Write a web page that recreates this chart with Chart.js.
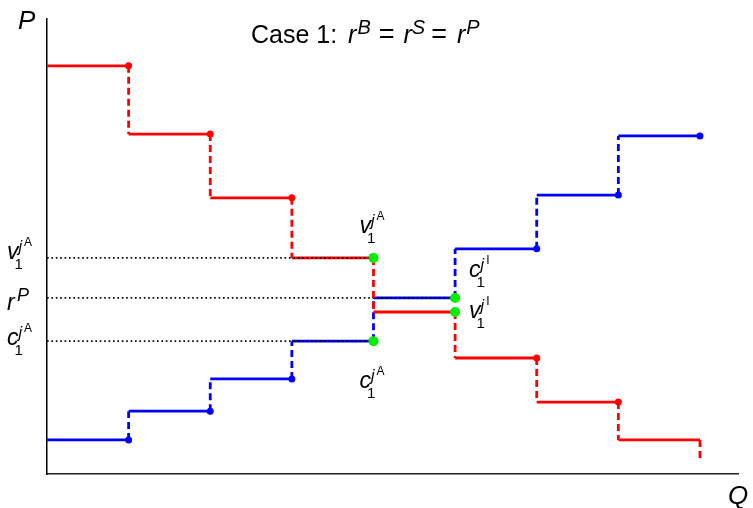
<!DOCTYPE html>
<html>
<head>
<meta charset="utf-8">
<script src="https://cdn.jsdelivr.net/npm/chart.js@4"></script>
<style>
  body { margin: 0; background: #fff; }
</style>
</head>
<body>
<canvas id="stepChart" width="753" height="508"></canvas>
<script>
// quantity steps and price levels
var qSteps = [0, 1, 2, 3, 4, 5, 6, 7, 8];
var redLevels = [8.97, 7.47, 6.07, 4.75, 3.56, 2.55, 1.58, 0.75];
var redTail = 0.35;
var blueLevels = [0.75, 1.38, 2.09, 2.92, 3.87, 4.95, 6.13, 7.43];
var redDotQ = [1, 2, 3, 6, 7];
var blueDotQ = [1, 2, 3, 6, 7, 8];
var greenQ = [4, 5];
var vA = redLevels[3];
var rP = blueLevels[4];
var cA = blueLevels[3];

var FONT = '"Liberation Sans", Arial, sans-serif';

// solid horizontal pieces, separated by gaps
function flats(levels) {
  var pts = [];
  levels.forEach(function (v, i) {
    pts.push({ x: qSteps[i], y: v }, { x: qSteps[i + 1], y: v }, { x: qSteps[i + 1], y: null });
  });
  return pts;
}

// dashed vertical risers between levels
function risers(levels, tail) {
  var pts = [];
  for (var i = 0; i < levels.length - 1; i++) {
    pts.push({ x: qSteps[i + 1], y: levels[i] }, { x: qSteps[i + 1], y: levels[i + 1] }, { x: qSteps[i + 1], y: null });
  }
  if (tail != null) {
    var q = qSteps[levels.length];
    pts.push({ x: q, y: levels[levels.length - 1] }, { x: q, y: tail });
  }
  return pts;
}

function dots(list, levels) {
  return list.map(function (q) { return { x: q, y: levels[q - 1] }; });
}

var greenPts = [];
greenQ.forEach(function (q) {
  greenPts.push({ x: q, y: redLevels[q - 1] });
  greenPts.push({ x: q, y: blueLevels[q - 1] });
});

function lineSet(data, color, dashed) {
  return {
    data: data,
    borderColor: color,
    borderWidth: 2.8,
    borderDash: dashed ? [7, 4] : [],
    pointRadius: 0,
    spanGaps: false,
    order: 2
  };
}

function dotSet(data, color, r, order) {
  return {
    data: data,
    showLine: false,
    pointRadius: r,
    pointBackgroundColor: color,
    pointBorderColor: color,
    pointBorderWidth: 0,
    order: order
  };
}

function dotted(y, qEnd) {
  return {
    data: [{ x: 0, y: y }, { x: qEnd, y: y }],
    borderColor: '#000',
    borderWidth: 1.6,
    borderDash: [1.6, 2.8],
    pointRadius: 0,
    order: 1
  };
}

// math-ish label: base_sub^{sup^{supsup}}
function mathLabel(ctx, x, y, base, sub, sup, supsup) {
  ctx.font = 'italic 23px ' + FONT;
  ctx.fillText(base, x, y);
  var w = ctx.measureText(base).width;
  ctx.font = '15px ' + FONT;
  ctx.fillText(sub, x + w - 4, y + 10);
  ctx.font = 'italic 16px ' + FONT;
  ctx.fillText(sup, x + w, y - 7);
  var w2 = ctx.measureText(sup).width;
  ctx.font = '12px ' + FONT;
  ctx.fillText(supsup, x + w + 2 + w2, y - 13);
}

var labelPlugin = {
  id: 'labels',
  afterDraw: function (chart) {
    var ctx = chart.ctx;
    var xs = chart.scales.x, ys = chart.scales.y;
    ctx.save();
    ctx.fillStyle = '#000';
    ctx.textBaseline = 'alphabetic';
    ctx.textAlign = 'left';

    // axis letters
    ctx.font = 'italic 26px ' + FONT;
    ctx.fillText('P', 18, 29);
    ctx.fillText('Q', 728, 504);

    // title
    var parts = [
      ['Case 1: ', '25px', 0, 4], ['r', 'italic 25px', 0, 1], ['B', 'italic 20px', -9, 8],
      ['=', '27px', 0, 9], ['r', 'italic 25px', 0, 0], ['S', 'italic 20px', -9, 6],
      ['=', '27px', 0, 10], ['r', 'italic 25px', 0, 1], ['P', 'italic 20px', -9, 0]
    ];
    var tx = 251;
    parts.forEach(function (p) {
      ctx.font = p[1] + ' ' + FONT;
      ctx.fillText(p[0], tx, 43 + p[2]);
      tx += ctx.measureText(p[0]).width + p[3];
    });

    // left side labels
    mathLabel(ctx, 7, ys.getPixelForValue(vA) + 1, 'v', '1', 'j', 'A');
    ctx.font = 'italic 23px ' + FONT;
    ctx.fillText('r', 7, ys.getPixelForValue(rP) + 12);
    ctx.font = 'italic 18px ' + FONT;
    ctx.fillText('P', 17, ys.getPixelForValue(rP) + 3);
    mathLabel(ctx, 7, ys.getPixelForValue(cA) + 4, 'c', '1', 'j', 'A');

    // labels at the crossing points
    var x4 = xs.getPixelForValue(4), x5 = xs.getPixelForValue(5);
    mathLabel(ctx, x4 - 14, ys.getPixelForValue(vA) - 25, 'v', '1', 'j', 'A');
    mathLabel(ctx, x4 - 14, ys.getPixelForValue(cA) + 47, 'c', '1', 'j', 'A');
    mathLabel(ctx, x5 + 14, ys.getPixelForValue(blueLevels[5]) + 28, 'c', '1', 'j', 'I');
    mathLabel(ctx, x5 + 14, ys.getPixelForValue(redLevels[4]) + 6, 'v', '1', 'j', 'I');
    ctx.restore();
  }
};

new Chart(document.getElementById('stepChart'), {
  type: 'line',
  data: {
    datasets: [
      dotSet(greenPts, '#00ee00', 5, 0),
      dotted(vA, 4),
      dotted(rP, 5),
      dotted(cA, 4),
      dotSet(dots(redDotQ, redLevels), '#ff0000', 3.5, 1),
      dotSet(dots(blueDotQ, blueLevels), '#0000ff', 3.5, 1),
      lineSet(flats(redLevels), '#ff0000', false),
      lineSet(risers(redLevels, redTail), '#ff0000', true),
      lineSet(flats(blueLevels), '#0000ff', false),
      lineSet(risers(blueLevels), '#0000ff', true)
    ]
  },
  options: {
    responsive: false,
    animation: false,
    layout: { padding: { left: 47, right: 15, top: 19, bottom: 34 } },
    plugins: { legend: { display: false }, tooltip: { enabled: false } },
    elements: { line: { tension: 0 } },
    scales: {
      x: {
        type: 'linear', min: 0, max: 8.466,
        ticks: { display: false },
        grid: { display: false, drawTicks: false },
        border: { display: true, color: '#222', width: 1.5 }
      },
      y: {
        type: 'linear', min: 0, max: 10,
        ticks: { display: false },
        grid: { display: false, drawTicks: false },
        border: { display: true, color: '#000', width: 1.5 }
      }
    }
  },
  plugins: [labelPlugin]
});
</script>
</body>
</html>
